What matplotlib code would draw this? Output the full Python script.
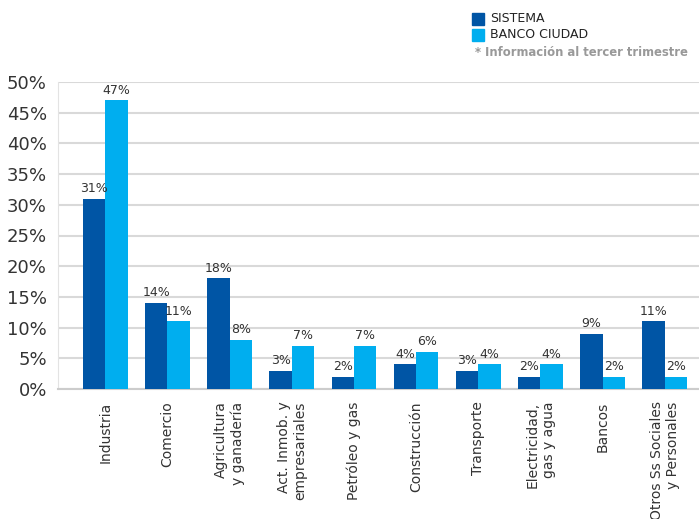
import matplotlib
matplotlib.use("Agg")
import matplotlib.pyplot as plt
import numpy as np

categories = ["Industria", "Comercio", "Agricultura\ny ganadería", "Act. Inmob. y\nempresariales",
              "Petróleo y gas", "Construcción", "Transporte", "Electricidad,\ngas y agua",
              "Bancos", "Otros Ss Sociales\ny Personales"]
sistema = [31, 14, 18, 3, 2, 4, 3, 2, 9, 11]
banco_ciudad = [47, 11, 8, 7, 7, 6, 4, 4, 2, 2]
y_ticks = [0, 5, 10, 15, 20, 25, 30, 35, 40, 45, 50]

DARK = "#0055A5"
LIGHT = "#00AEEF"
TEXT = "#333333"

plt.rcParams['font.family'] = ['DejaVu Sans']

W, H = 699, 519
fig = plt.figure(figsize=(W / 100, H / 100), dpi=100)
ax = fig.add_axes([58 / W, 1 - 389 / H, 1 - 58 / W, (389 - 82) / H])

x = np.arange(len(categories))
bw = 0.36
ax.bar(x - bw / 2, sistema, bw, color=DARK, zorder=3)
ax.bar(x + bw / 2, banco_ciudad, bw, color=LIGHT, zorder=3)

for xi, v in zip(x - bw / 2, sistema):
    ax.text(xi, v + 0.6, f"{v}%", ha="center", va="bottom", fontsize=9, color=TEXT)
for xi, v in zip(x + bw / 2, banco_ciudad):
    ax.text(xi, v + 0.6, f"{v}%", ha="center", va="bottom", fontsize=9, color=TEXT)

ax.set_xlim(-0.76, 9.55)
ax.set_ylim(0, 50)
ax.set_yticks(y_ticks)
ax.set_yticklabels([f"{t}%" for t in y_ticks], fontsize=13, color=TEXT)
ax.yaxis.grid(True, color="#d9d9d9", linewidth=1.5, zorder=0)
ax.set_axisbelow(True)
ax.tick_params(axis="y", length=0, pad=8)
ax.tick_params(axis="x", length=0, pad=9)
ax.set_xticks(x)
ax.set_xticklabels(categories, rotation=90, fontsize=10, color=TEXT,
                   va="top", ha="center", multialignment="right")
for side in ["top", "right"]:
    ax.spines[side].set_visible(False)
ax.spines["left"].set_color("#e3e3e3")
ax.spines["bottom"].set_color("#cccccc")
ax.spines["bottom"].set_linewidth(1.5)

# Legend
fig.patches.append(plt.Rectangle((472 / W, 1 - 25 / H), 12 / W, 12 / H,
                                 transform=fig.transFigure, color=DARK))
fig.patches.append(plt.Rectangle((472 / W, 1 - 41 / H), 12 / W, 12 / H,
                                 transform=fig.transFigure, color=LIGHT))
fig.text(490 / W, 1 - 19 / H, "SISTEMA", fontsize=9, color="#222222", va="center", fontweight="medium")
fig.text(490 / W, 1 - 35 / H, "BANCO CIUDAD", fontsize=9, color="#222222", va="center", fontweight="medium")
fig.text(475 / W, 1 - 52 / H, "* Información al tercer trimestre", fontsize=8.4, color="#999999",
         va="center", fontweight="bold")

fig.savefig("out.png", dpi=100)
